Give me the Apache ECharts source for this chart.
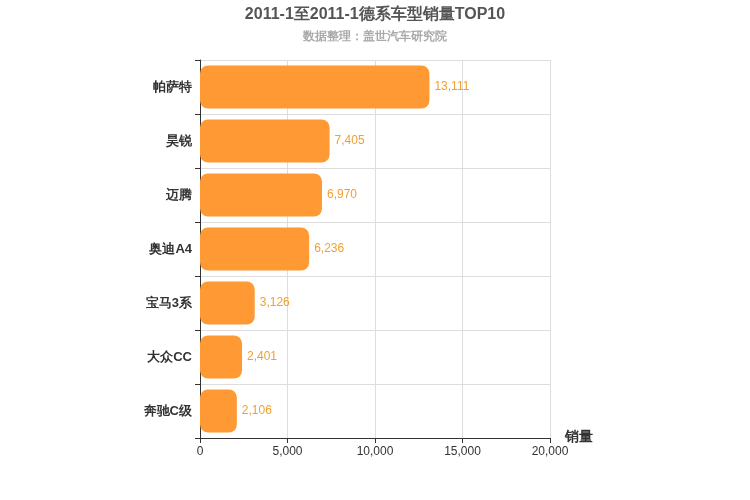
<!DOCTYPE html>
<html>
<head>
<meta charset="utf-8">
<script src="https://cdn.jsdelivr.net/npm/echarts@6/dist/echarts.min.js"></script>
<style>html,body{margin:0;padding:0}.demo{width:750px;height:500px}</style>
</head>
<body>
<div class="demo"></div>
<script>
const categories = ['帕萨特', '昊锐', '迈腾', '奥迪A4', '宝马3系', '大众CC', '奔驰C级']
const sales = [13111, 7405, 6970, 6236, 3126, 2401, 2106]
const xTicks = [0, 5000, 10000, 15000, 20000]

const chartinstance = echarts.init(document.querySelector('.demo'))
const option = {
  title: {
    text: '2011-1至2011-1德系车型销量TOP10',
    subtext: '数据整理：盖世汽车研究院',
    left: 'center',
    top: 2,
    itemGap: 8,
    textStyle: { fontSize: 16, fontWeight: 'bold', color: '#555' },
    subtextStyle: { fontSize: 12, fontWeight: 'bold', color: '#aaa' }
  },
  grid: { left: 200, right: 200, top: 60, bottom: 62 },
  xAxis: {
    type: 'value',
    min: xTicks[0],
    max: xTicks[xTicks.length - 1],
    interval: 5000,
    name: '销量',
    nameGap: 15,
    nameTextStyle: { fontSize: 14, fontWeight: 'bold', color: '#333', verticalAlign: 'top', padding: [-8, 0, 0, 0] },
    axisLine: { show: true, lineStyle: { color: '#333' } },
    axisTick: { show: true },
    axisLabel: { color: '#333', formatter: v => v.toLocaleString('en-US') },
    splitLine: { lineStyle: { color: '#ddd' } }
  },
  yAxis: {
    type: 'category',
    data: categories,
    inverse: true,
    axisLine: { lineStyle: { color: '#333' } },
    axisTick: { show: true },
    axisLabel: { color: '#333', fontSize: 13, fontWeight: 'bold' },
    splitLine: { show: true, lineStyle: { color: '#ddd' } }
  },
  series: [{
    type: 'bar',
    data: sales,
    barWidth: '80%',
    itemStyle: { color: '#ff9933', borderRadius: 8 },
    label: {
      show: true,
      position: 'right',
      color: '#f0a030',
      fontSize: 12,
      formatter: p => p.value.toLocaleString('en-US')
    }
  }]
}
option && chartinstance.setOption(option)
</script>
</body>
</html>
